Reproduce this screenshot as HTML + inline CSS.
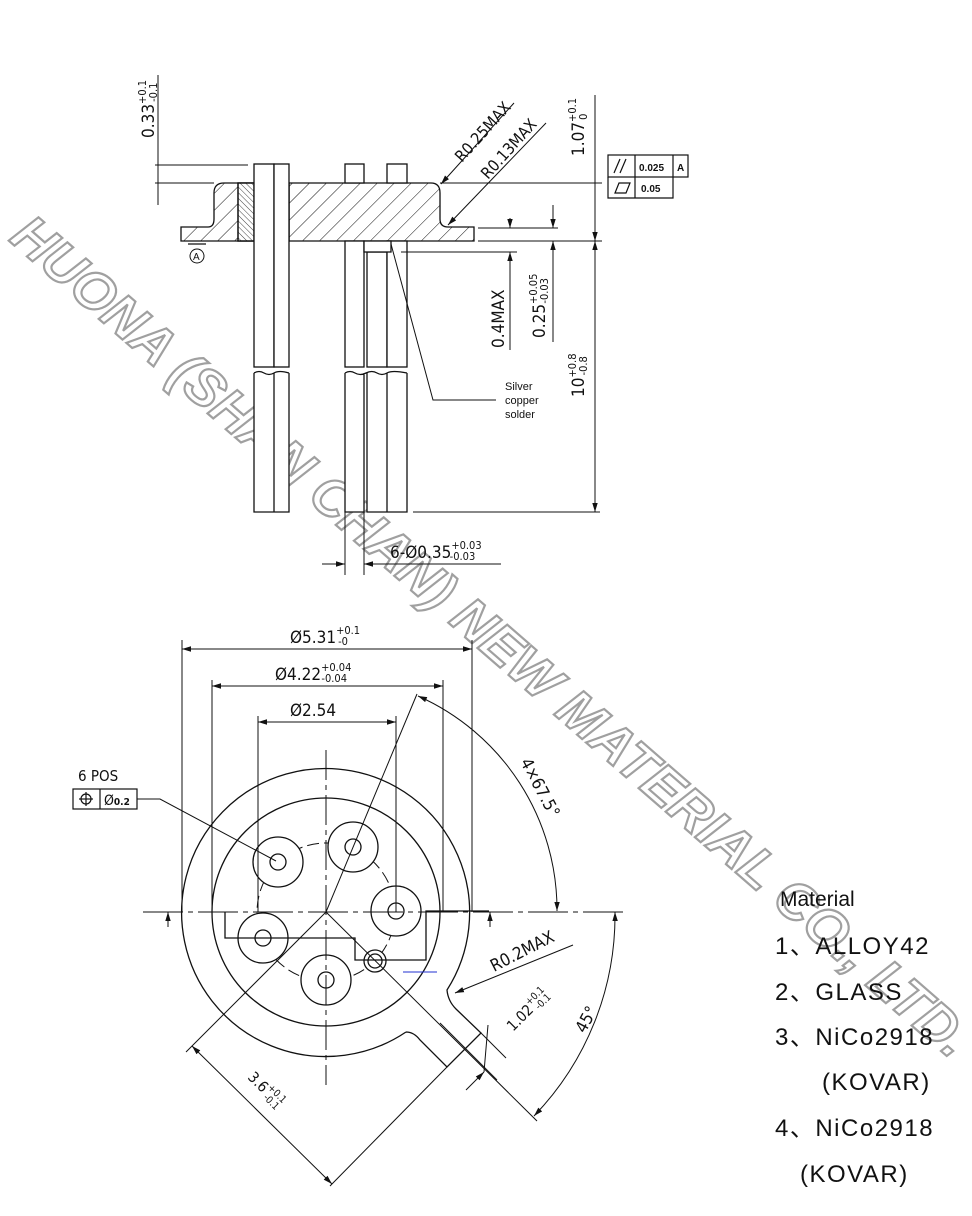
<!DOCTYPE html>
<html><head><meta charset="utf-8"><style>
html,body{margin:0;padding:0;background:#fff;}
svg{display:block;}
text{font-family:"Liberation Sans","DejaVu Sans",sans-serif;fill:#111;}
.d{font-family:"DejaVu Sans Condensed","DejaVu Sans",sans-serif;}
</style></head><body>
<svg width="972" height="1216" viewBox="0 0 972 1216" xmlns="http://www.w3.org/2000/svg">
<defs>
<pattern id="h1" patternUnits="userSpaceOnUse" width="12" height="12" patternTransform="rotate(45)">
<line x1="0" y1="0" x2="0" y2="12" stroke="#111" stroke-width="1"/></pattern>
<pattern id="h2" patternUnits="userSpaceOnUse" width="4" height="4" patternTransform="rotate(-45)">
<line x1="0" y1="0" x2="0" y2="4" stroke="#111" stroke-width="0.8"/></pattern>
<marker id="a" viewBox="0 0 10 10" refX="10" refY="5" markerWidth="9" markerHeight="9" orient="auto-start-reverse" markerUnits="userSpaceOnUse"><path d="M0,2 L10,5 L0,8 z" fill="#111"/></marker>
</defs>
<!-- watermark -->
<text x="0" y="0" font-size="54" font-weight="bold" font-style="italic" stroke="#a0a0a0" stroke-width="2.2" textLength="1250" lengthAdjust="spacingAndGlyphs" transform="translate(8,240) rotate(41)" style="font-family:'Liberation Sans',sans-serif;fill:#fff">HUONA (SHAN CHAN) NEW MATERIAL CO., LTD.</text>
<g stroke="#111" stroke-width="1.3" fill="none">
<path d="M181,241 L181,227 L208,227 Q214,227 214,219 L214,193 Q214,183 224,183 L431,183 Q440,183 440,193 L440,219 Q440,227 448,227 L474,227 L474,241 Z" fill="url(#h1)"/>
<rect x="238" y="183" width="51" height="58" fill="#fff"/>
<rect x="238" y="183" width="16" height="58" fill="url(#h2)"/>
<rect x="274" y="183" width="15" height="58" fill="url(#h2)"/>
<rect x="254" y="164" width="20" height="203" fill="#fff"/>
<rect x="274" y="164" width="15" height="203" fill="#fff"/>
<path d="M254,373 Q259,370 264,373 T274,373 T289,373 M254,373 V512 H289 V373 M274,373 V512" fill="#fff"/>
<rect x="345" y="164" width="19" height="19" fill="#fff"/>
<rect x="387" y="164" width="20" height="19" fill="#fff"/>
<rect x="345" y="241" width="19" height="126" fill="#fff"/>
<rect x="367" y="252" width="20" height="115" fill="#fff"/>
<rect x="387" y="241" width="20" height="126" fill="#fff"/>
<path d="M345,373 Q350,370 355,373 T366,373 T377,373 T387,373 T407,373 M345,373 V512 H364 V373 M367,373 V512 H387 V373 M407,373 V512 H387" fill="#fff"/>
<rect x="364" y="241" width="27" height="11" fill="#fff"/>
<line x1="188" y1="244" x2="206" y2="244"/>
<circle cx="197" cy="256" r="7" stroke-width="1" fill="#fff"/>
<line x1="158" y1="75" x2="158" y2="205" stroke-width="1"/>
<line x1="155" y1="165" x2="248" y2="165" stroke-width="1"/>
<line x1="155" y1="183" x2="214" y2="183" stroke-width="1"/>
<line x1="440" y1="183" x2="602" y2="183" stroke-width="1"/>
<line x1="478" y1="241" x2="602" y2="241" stroke-width="1"/>
<line x1="478" y1="228" x2="558" y2="228" stroke-width="1"/>
<line x1="401" y1="252" x2="517" y2="252" stroke-width="1"/>
<line x1="413" y1="512" x2="600" y2="512" stroke-width="1"/>
<line x1="595" y1="95" x2="595" y2="241" stroke-width="1" marker-end="url(#a)"/>
<line x1="595" y1="241" x2="595" y2="512" stroke-width="1" marker-start="url(#a)" marker-end="url(#a)"/>
<line x1="510" y1="218" x2="510" y2="228" stroke-width="1" marker-end="url(#a)"/>
<line x1="510" y1="252" x2="510" y2="350" stroke-width="1" marker-start="url(#a)"/>
<line x1="553" y1="205" x2="553" y2="228" stroke-width="1" marker-end="url(#a)"/>
<line x1="553" y1="241" x2="553" y2="342" stroke-width="1" marker-start="url(#a)"/>
<line x1="514" y1="103" x2="441" y2="184" stroke-width="1" marker-end="url(#a)"/>
<line x1="546" y1="123" x2="448" y2="225" stroke-width="1" marker-end="url(#a)"/>
<polyline points="391,244 433,400 496,400" stroke-width="1"/>
<line x1="345" y1="512" x2="345" y2="575" stroke-width="1"/>
<line x1="364" y1="512" x2="364" y2="575" stroke-width="1"/>
<line x1="322" y1="564" x2="345" y2="564" stroke-width="1" marker-end="url(#a)"/>
<line x1="387" y1="564" x2="364" y2="564" stroke-width="1" marker-end="url(#a)"/>
<line x1="364" y1="564" x2="501" y2="564" stroke-width="1"/>
<rect x="608" y="155" width="80" height="22" stroke-width="1.2"/>
<line x1="635" y1="155" x2="635" y2="198" stroke-width="1.2"/>
<line x1="673" y1="155" x2="673" y2="177" stroke-width="1.2"/>
<polyline points="608,177 608,198 673,198 673,177" stroke-width="1.2"/>
<line x1="614" y1="173" x2="620" y2="159" stroke-width="1.2"/><line x1="620" y1="173" x2="626" y2="159" stroke-width="1.2"/>
<path d="M615,193 L619,183 L630,183 L626,193 Z" stroke-width="1.2"/>
</g>
<text x="193" y="260" font-size="10">A</text>
<text x="0" y="0" font-size="17" class="d" transform="translate(154,138) rotate(-90)">0.33<tspan font-size="11" dy="-8">+0.1</tspan><tspan font-size="11" dx="-22" dy="11">-0.1</tspan></text>
<text font-size="16" class="d" transform="translate(462,163) rotate(-48)">R0.25MAX</text>
<text font-size="16" class="d" transform="translate(488,180) rotate(-48)">R0.13MAX</text>
<text font-size="17" class="d" transform="translate(584,156) rotate(-90)">1.07<tspan font-size="11" dy="-8">+0.1</tspan><tspan font-size="11" dx="-22" dy="11">0</tspan></text>
<text font-size="17" class="d" transform="translate(504,348) rotate(-90)">0.4MAX</text>
<text font-size="17" class="d" transform="translate(545,338) rotate(-90)">0.25<tspan font-size="11" dy="-8">+0.05</tspan><tspan font-size="11" dx="-30" dy="11">-0.03</tspan></text>
<text font-size="17" class="d" transform="translate(584,397) rotate(-90)">10<tspan font-size="11" dy="-8">+0.8</tspan><tspan font-size="11" dx="-22" dy="11">-0.8</tspan></text>
<text x="505" y="390" font-size="11">Silver</text>
<text x="505" y="404" font-size="11">copper</text>
<text x="505" y="418" font-size="11">solder</text>
<text x="390" y="558" font-size="17" class="d">6-Ø0.35<tspan font-size="11" dy="-9">+0.03</tspan><tspan font-size="11" dx="-32" dy="11">-0.03</tspan></text>
<text x="639" y="171" font-size="10" font-weight="bold">0.025</text>
<text x="677" y="171" font-size="10" font-weight="bold">A</text>
<text x="641" y="192" font-size="10" font-weight="bold">0.05</text>

<g stroke="#111" stroke-width="1.3" fill="none">
<path d="M406,1032 A144,144 0 1 1 447,990 Q448,1001 456,1009 L481,1033 L447,1067 L420,1040 Q414,1032 406,1032"/>
<circle cx="326" cy="912" r="114"/>
<circle cx="326" cy="912" r="69" stroke-width="1" stroke-dasharray="12,5"/>
<g fill="#fff">
<circle cx="278" cy="862" r="25"/><circle cx="278" cy="862" r="8"/>
<circle cx="353" cy="847" r="25"/><circle cx="353" cy="847" r="8"/>
<circle cx="396" cy="911" r="25"/><circle cx="396" cy="911" r="8"/>
<circle cx="263" cy="938" r="25"/><circle cx="263" cy="938" r="8"/>
<circle cx="326" cy="980" r="25"/><circle cx="326" cy="980" r="8"/>
<circle cx="375" cy="961" r="11"/><circle cx="375" cy="961" r="7"/>
</g>
<polyline points="225,912 225,938 355,938 355,960 426,960 426,911 489,911" stroke-width="1.3"/>
<line x1="143" y1="912" x2="624" y2="912" stroke-width="1" stroke-dasharray="40,5,5,5"/>
<line x1="326" y1="750" x2="326" y2="1085" stroke-width="1" stroke-dasharray="30,5,5,5"/>
<line x1="168" y1="927" x2="168" y2="912" stroke-width="1" marker-end="url(#a)"/>
<line x1="490" y1="927" x2="490" y2="912" stroke-width="1" marker-end="url(#a)"/>
<line x1="182" y1="640" x2="182" y2="912" stroke-width="1"/>
<line x1="472" y1="640" x2="472" y2="912" stroke-width="1"/>
<line x1="212" y1="680" x2="212" y2="912" stroke-width="1"/>
<line x1="443" y1="680" x2="443" y2="912" stroke-width="1"/>
<line x1="258" y1="716" x2="258" y2="912" stroke-width="1"/>
<line x1="396" y1="716" x2="396" y2="912" stroke-width="1"/>
<line x1="182" y1="649" x2="472" y2="649" stroke-width="1" marker-start="url(#a)" marker-end="url(#a)"/>
<line x1="212" y1="686" x2="443" y2="686" stroke-width="1" marker-start="url(#a)" marker-end="url(#a)"/>
<line x1="258" y1="722" x2="396" y2="722" stroke-width="1" marker-start="url(#a)" marker-end="url(#a)"/>
<line x1="326" y1="912" x2="417" y2="694" stroke-width="1"/>
<path d="M418,696 A234,234 0 0 1 557,911" stroke-width="1" marker-start="url(#a)" marker-end="url(#a)"/>
<line x1="326" y1="912" x2="537" y2="1121" stroke-width="1"/>
<path d="M615,912 A289,289 0 0 1 534,1116" stroke-width="1" marker-start="url(#a)" marker-end="url(#a)"/>
<line x1="326" y1="912" x2="186" y2="1052" stroke-width="1"/>
<line x1="447" y1="1067" x2="330" y2="1186" stroke-width="1"/>
<line x1="192" y1="1046" x2="332" y2="1184" stroke-width="1" marker-start="url(#a)" marker-end="url(#a)"/>
<line x1="440" y1="1023" x2="497" y2="1080" stroke-width="1"/>
<line x1="481" y1="1033" x2="506" y2="1058" stroke-width="1"/>
<line x1="466" y1="1090" x2="484" y2="1072" stroke-width="1" marker-end="url(#a)"/>
<line x1="484" y1="1072" x2="488" y2="1025" stroke-width="1"/>
<line x1="573" y1="945" x2="455" y2="993" stroke-width="1" marker-end="url(#a)"/>
<line x1="403" y1="972" x2="437" y2="972" stroke="#2030d0" stroke-width="1"/>
<rect x="73" y="789" width="64" height="20" stroke-width="1.2"/>
<line x1="100" y1="789" x2="100" y2="809" stroke-width="1.2"/>
<circle cx="86" cy="799" r="5" stroke-width="1.2"/>
<line x1="79" y1="799" x2="93" y2="799" stroke-width="1.2"/><line x1="86" y1="792" x2="86" y2="806" stroke-width="1.2"/>
<polyline points="137,799 160,799 276,861" stroke-width="1"/>
</g>
<text x="78" y="781" font-size="15" class="d">6 POS</text>
<text x="104" y="805" font-size="14" class="d">Ø<tspan font-size="10" font-weight="bold">0.2</tspan></text>
<text x="290" y="643" font-size="17" class="d">Ø5.31<tspan font-size="11" dy="-9">+0.1</tspan><tspan font-size="11" dx="-22" dy="11">-0</tspan></text>
<text x="275" y="680" font-size="17" class="d">Ø4.22<tspan font-size="11" dy="-9">+0.04</tspan><tspan font-size="11" dx="-30" dy="11">-0.04</tspan></text>
<text x="290" y="716" font-size="17" class="d">Ø2.54</text>
<text font-size="17" class="d" transform="translate(520,762) rotate(62)">4×67.5°</text>
<text font-size="17" class="d" transform="translate(494,972) rotate(-27)">R0.2MAX</text>
<text font-size="15" class="d" transform="translate(513,1032) rotate(-45)">1.02<tspan font-size="10" dy="-7">+0.1</tspan><tspan font-size="10" dx="-18" dy="10">-0.1</tspan></text>
<text font-size="17" class="d" transform="translate(585,1034) rotate(-62)">45°</text>
<text font-size="15" class="d" transform="translate(247,1078) rotate(45)">3.6<tspan font-size="10" dy="-7">+0.1</tspan><tspan font-size="10" dx="-18" dy="10">-0.1</tspan></text>

<text x="780" y="906" font-size="21">Material</text>
<g class="d" font-size="24" letter-spacing="1.5" style="fill:#333">
<text x="775" y="954">1、ALLOY42</text>
<text x="775" y="1000">2、GLASS</text>
<text x="775" y="1045">3、NiCo2918</text>
<text x="822" y="1090">(KOVAR)</text>
<text x="775" y="1136">4、NiCo2918</text>
<text x="800" y="1182">(KOVAR)</text>
</g>
</svg>
</body></html>
